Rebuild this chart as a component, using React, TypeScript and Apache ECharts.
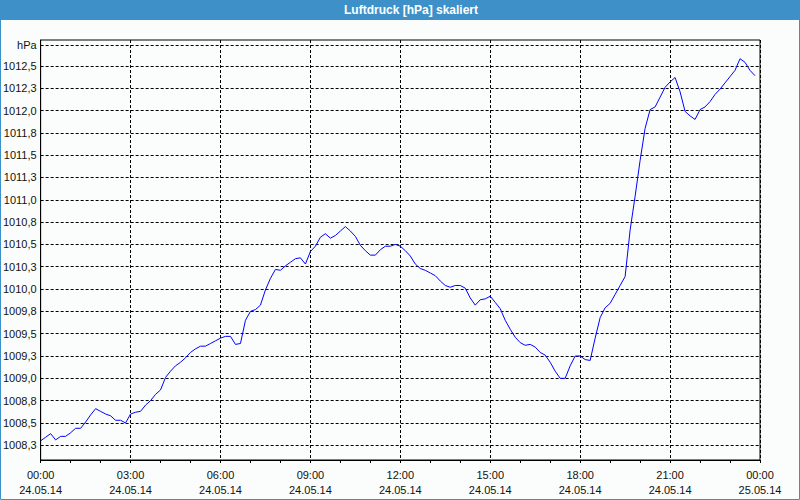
import React, { useEffect, useRef } from "react";
import * as echarts from "echarts";

const TITLE = "Luftdruck [hPa] skaliert";
const UNIT = "hPa";
const DAY_LABELS = ["24.05.14", "25.05.14"];
const STEP_MINUTES = 10;

// Pressure readings every 10 minutes starting 24.05.14 00:00
const PRESSURE = [
  1008.30, 1008.34, 1008.38, 1008.31, 1008.35, 1008.35, 1008.39, 1008.44, 1008.44, 1008.51,
  1008.59, 1008.66, 1008.63, 1008.60, 1008.58, 1008.53, 1008.53, 1008.50, 1008.60, 1008.62,
  1008.63, 1008.70, 1008.75, 1008.82, 1008.87, 1009.01, 1009.08, 1009.14, 1009.18, 1009.23,
  1009.29, 1009.33, 1009.36, 1009.36, 1009.39, 1009.42, 1009.45, 1009.47, 1009.47, 1009.38,
  1009.39, 1009.65, 1009.75, 1009.77, 1009.82, 1009.99, 1010.12, 1010.22, 1010.21, 1010.26,
  1010.30, 1010.34, 1010.35, 1010.28, 1010.42, 1010.48, 1010.58, 1010.62, 1010.57, 1010.60,
  1010.65, 1010.70, 1010.65, 1010.59, 1010.49, 1010.43, 1010.38, 1010.38, 1010.44, 1010.48,
  1010.48, 1010.50, 1010.48, 1010.43, 1010.37, 1010.28, 1010.23, 1010.21, 1010.18, 1010.15,
  1010.09, 1010.04, 1010.02, 1010.04, 1010.04, 1010.01, 1009.90, 1009.82, 1009.88, 1009.89,
  1009.92, 1009.85, 1009.78, 1009.65, 1009.55, 1009.46, 1009.40, 1009.37, 1009.38, 1009.35,
  1009.29, 1009.26, 1009.18, 1009.08, 1009.00, 1009.00, 1009.14, 1009.25, 1009.25, 1009.21,
  1009.20, 1009.45, 1009.68, 1009.79, 1009.84, 1009.94, 1010.04, 1010.14, 1010.66, 1011.04,
  1011.44, 1011.80, 1012.01, 1012.04, 1012.15, 1012.26, 1012.32, 1012.37, 1012.21, 1011.99,
  1011.94, 1011.90, 1012.01, 1012.04, 1012.10, 1012.18, 1012.24, 1012.31, 1012.38, 1012.45,
  1012.58, 1012.54, 1012.45, 1012.39,
];

const Y_TICKS = [
  1008.25, 1008.5, 1008.75, 1009.0, 1009.25, 1009.5, 1009.75, 1010.0, 1010.25,
  1010.5, 1010.75, 1011.0, 1011.25, 1011.5, 1011.75, 1012.0, 1012.25, 1012.5,
];
const UNIT_TICK = 1012.735;
const Y_MIN = 1008.085;
const Y_MAX = 1012.79;
const X_MAX_HOURS = 24;
const X_TICK_HOURS = 3;

const FONT = "'Liberation Sans', Arial, sans-serif";

export default function App() {
  const ref = useRef<HTMLDivElement>(null);

  useEffect(() => {
    document.body.style.margin = "0";
    if (!ref.current) return;
    const chart = echarts.init(ref.current, null, { renderer: "svg" });
    const data = PRESSURE.map((v, i) => [(i * STEP_MINUTES) / 60, v]);
    const yValues = [...Y_TICKS, UNIT_TICK];

    chart.setOption({
      animation: false,
      backgroundColor: "#fbfdfc",
      graphic: [
        {
          type: "rect",
          shape: { x: 0, y: 0, width: 800, height: 20 },
          style: { fill: "#3d91c8" },
          silent: true,
        },
        {
          type: "rect",
          shape: { x: 0.5, y: 0.5, width: 799, height: 499 },
          style: { fill: "none", stroke: "#3d91c8", lineWidth: 1 },
          silent: true,
        },
        {
          type: "text",
          x: 411,
          y: 10,
          silent: true,
          style: {
            text: TITLE,
            fill: "#ffffff",
            font: `bold 12px ${FONT}`,
            align: "center",
            verticalAlign: "middle",
          },
        },
      ],
      grid: {
        left: 40,
        right: 40,
        top: 40,
        bottom: 40,
        show: true,
        borderColor: "#000",
        borderWidth: 1,
        backgroundColor: "transparent",
      },
      xAxis: {
        type: "value",
        min: 0,
        max: X_MAX_HOURS,
        interval: X_TICK_HOURS,
        axisLine: { show: true, lineStyle: { color: "#000", width: 1 } },
        axisTick: { show: true, length: 3, lineStyle: { color: "#000" } },
        minorTick: { show: true, splitNumber: 3, length: 3, lineStyle: { color: "#000" } },
        splitLine: { show: true, lineStyle: { color: "#000", type: [3, 2], width: 1 } },
        axisLabel: {
          color: "#111",
          fontFamily: FONT,
          fontSize: 11,
          lineHeight: 15,
          margin: 7,
          showMinLabel: true,
          showMaxLabel: true,
          formatter: (v: number) => {
            const day = Math.floor(v / 24);
            const h = Math.round(v - day * 24);
            return `${String(h).padStart(2, "0")}:00\n${DAY_LABELS[day]}`;
          },
        },
      },
      yAxis: {
        type: "value",
        min: Y_MIN,
        max: Y_MAX,
        axisLine: { show: true, lineStyle: { color: "#000", width: 1 } },
        axisTick: { show: false, customValues: yValues },
        splitLine: { show: true, lineStyle: { color: "#000", type: [3, 2], width: 1 } },
        axisLabel: {
          customValues: yValues,
          color: "#111",
          fontFamily: FONT,
          fontSize: 11,
          margin: 4,
          formatter: (v: number) =>
            v > 1012.6 ? UNIT : v.toFixed(1).replace(".", ","),
        },
      },
      series: [
        {
          type: "line",
          data,
          showSymbol: false,
          symbol: "none",
          lineStyle: { color: "#0000ff", width: 1 },
        },
      ],
    });

    return () => chart.dispose();
  }, []);

  return <div ref={ref} style={{ width: 800, height: 500 }} />;
}
